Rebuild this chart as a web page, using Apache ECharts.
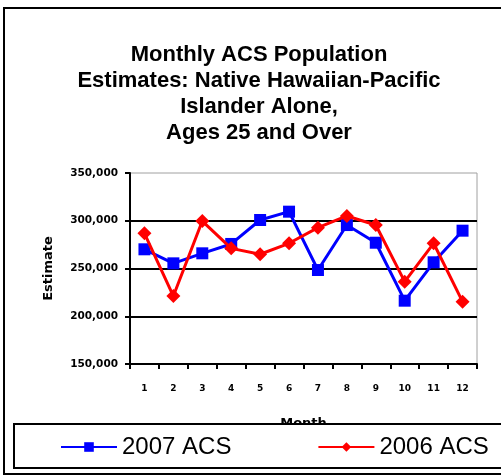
<!DOCTYPE html>
<html>
<head>
<meta charset="utf-8">
<script src="https://cdn.jsdelivr.net/npm/echarts@6/dist/echarts.min.js"></script>
<style>html,body{margin:0;padding:0;background:#fff}#c{width:501px;height:476px}</style>
</head>
<body>
<div id="c"></div>
<script>
var titleText = 'Monthly ACS Population\nEstimates: Native Hawaiian-Pacific\nIslander Alone,\nAges 25 and Over';
var months = ['1','2','3','4','5','6','7','8','9','10','11','12'];
var acs2007 = [270100, 255400, 265900, 275700, 300800, 309500, 248400, 295500, 277000, 216300, 256500, 289600];
var acs2006 = [286800, 221200, 299700, 271100, 264900, 276400, 292800, 305000, 295500, 236200, 276400, 215300];
var yTicks = [150000, 350000, 50000]; // min, max, step

var chart = echarts.init(document.getElementById('c'), null, {renderer: 'canvas'});
chart.setOption({
  animation: false,
  backgroundColor: '#fff',
  title: {
    text: titleText,
    left: 254, top: 37, textAlign: 'center',
    textStyle: {fontFamily: 'Liberation Sans', fontWeight: 'bold', fontSize: 22, lineHeight: 26, color: '#000'}
  },
  graphic: [
    {type: 'rect', z: 1, shape: {x: 4, y: 8, width: 520, height: 466}, style: {fill: 'none', stroke: '#000', lineWidth: 2}},
    {type: 'rect', z: 50, shape: {x: 14, y: 424, width: 500, height: 44}, style: {fill: '#fff', stroke: '#000', lineWidth: 2}}
  ],
  legend: {
    z: 60,
    left: 55, top: 430,
    itemWidth: 56, itemHeight: 12, itemGap: 86,
    textStyle: {fontFamily: 'Liberation Sans', fontSize: 24, color: '#000'},
    data: ['2007 ACS', '2006 ACS']
  },
  grid: {left: 130, right: 24, top: 173, bottom: 112, show: true, borderColor: '#a0a0a0', borderWidth: 1},
  xAxis: {
    type: 'category', data: months, boundaryGap: true,
    name: 'Month', nameLocation: 'middle', nameGap: 53,
    nameTextStyle: {fontFamily: 'DejaVu Sans', fontWeight: 'bold', fontSize: 13, color: '#000'},
    axisLine: {lineStyle: {color: '#000', width: 2}},
    axisTick: {show: true, length: 5, lineStyle: {color: '#000', width: 2}},
    axisLabel: {margin: 20, fontFamily: 'DejaVu Sans', fontWeight: 'bold', fontSize: 9, color: '#000'}
  },
  yAxis: {
    type: 'value', min: yTicks[0], max: yTicks[1], interval: yTicks[2],
    name: 'Estimate', nameLocation: 'middle', nameGap: 75, nameRotate: 90,
    nameTextStyle: {fontFamily: 'DejaVu Sans', fontWeight: 'bold', fontSize: 13, color: '#000'},
    axisLine: {show: true, lineStyle: {color: '#000', width: 2}},
    axisTick: {show: true, length: 5, lineStyle: {color: '#000', width: 2}},
    axisLabel: {margin: 12, fontFamily: 'DejaVu Sans', fontWeight: 'bold', fontSize: 10.5, color: '#000',
      formatter: function (v) { return v.toLocaleString('en-US'); }},
    splitLine: {show: true, lineStyle: {color: ['#000', '#000', '#000', '#000', 'rgba(0,0,0,0)'], width: 2}}
  },
  series: [
    {name: '2007 ACS', type: 'line', data: acs2007, symbol: 'rect', symbolSize: 12,
      lineStyle: {color: '#0000ff', width: 3}, itemStyle: {color: '#0000ff'}, z: 3},
    {name: '2006 ACS', type: 'line', data: acs2006, symbol: 'diamond', symbolSize: 14,
      lineStyle: {color: '#ff0000', width: 3}, itemStyle: {color: '#ff0000'}, z: 4}
  ]
});
</script>
</body>
</html>
